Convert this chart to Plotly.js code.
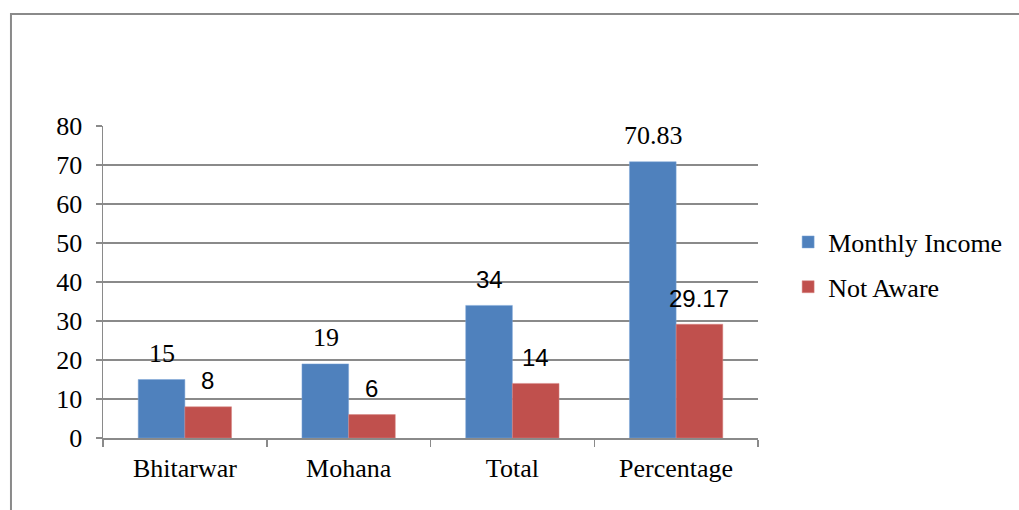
<!DOCTYPE html>
<html><head><meta charset="utf-8">
<script src="https://cdn.plot.ly/plotly-3.0.1.min.js"></script>
<style>html,body{margin:0;padding:0;background:#fff}#chart{width:1019px;height:510px}</style>
</head><body><div id="chart"></div>
<script>
const categories = ["Bhitarwar", "Mohana", "Total", "Percentage"];
const monthlyIncome = [15, 19, 34, 70.83];
const notAware = [8, 6, 14, 29.17];
const seriesNames = ["Monthly Income", "Not Aware"];
const yTicks = [0, 10, 20, 30, 40, 50, 60, 70, 80];

const SERIF = "Liberation Serif";
const SANS = "Liberation Sans";
const blueLabelFonts = [SERIF, SERIF, SANS, SERIF];
const redLabelFonts = [SANS, SANS, SANS, SANS];

const traces = [
  {type: "bar", name: seriesNames[0], x: categories, y: monthlyIncome, legendgroup: "a",
   marker: {color: "#4F81BD", line: {color: "#7EA6D8", width: 0.5}}, hoverinfo: "none"},
  {type: "bar", name: seriesNames[1], x: categories, y: notAware, legendgroup: "b",
   marker: {color: "#C0504D", line: {color: "#D88684", width: 0.5}}, hoverinfo: "none"}
];

const annotations = [];
categories.forEach((c, i) => {
  annotations.push({x: c, y: monthlyIncome[i], xref: "x", yref: "y", text: String(monthlyIncome[i]),
    showarrow: false, xshift: -23, yshift: 26, yanchor: "middle",
    font: {family: blueLabelFonts[i], size: blueLabelFonts[i] === SANS ? 24 : 26, color: "#000"}});
  annotations.push({x: c, y: notAware[i], xref: "x", yref: "y", text: String(notAware[i]),
    showarrow: false, xshift: 23, yshift: 26, yanchor: "middle",
    font: {family: redLabelFonts[i], size: 24, color: "#000"}});
});

const layout = {
  width: 1019, height: 510,
  margin: {l: 103, r: 261, t: 126, b: 72, pad: 0, autoexpand: false},
  paper_bgcolor: "#fff", plot_bgcolor: "#fff",
  font: {family: SERIF},
  barmode: "group", bargap: 0.43, bargroupgap: 0,
  showlegend: true,
  legend: {x: 1.046, xanchor: "left", y: 0.556, yanchor: "middle", traceorder: "grouped",
    font: {family: SERIF, size: 26, color: "#000"}, tracegroupgap: 8, itemwidth: 30},
  xaxis: {type: "category", showgrid: false, showline: true, linecolor: "#8a8a8a", linewidth: 1.5,
    ticks: "outside", tickson: "boundaries", ticklen: 7, tickcolor: "#8a8a8a", tickwidth: 1.5,
    tickfont: {family: SERIF, size: 26, color: "#000"}, ticklabelstandoff: 6, zeroline: false},
  yaxis: {range: [0, 80], tickvals: yTicks, showgrid: true, gridcolor: "#8a8a8a", gridwidth: 1.5,
    showline: true, linecolor: "#8a8a8a", linewidth: 1.5, ticks: "outside", ticklen: 6,
    tickcolor: "#8a8a8a", tickwidth: 1.5, zeroline: false,
    tickfont: {family: SERIF, size: 26, color: "#000"}, ticklabelstandoff: 8},
  annotations: annotations,
  shapes: [{type: "rect", xref: "paper", yref: "paper", x0: -0.1405, x1: 1.45, y0: -0.3, y1: 1.359,
    line: {color: "#8a8a8a", width: 2}, fillcolor: "rgba(0,0,0,0)", layer: "below"}]
};

Plotly.newPlot("chart", traces, layout, {displayModeBar: false, staticPlot: true});
</script></body></html>
